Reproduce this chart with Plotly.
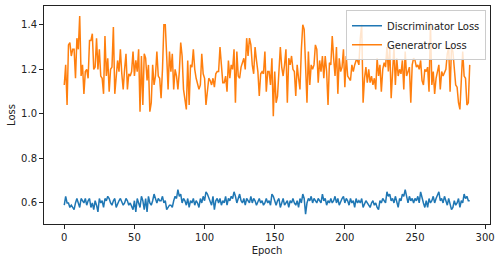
import plotly.graph_objects as go

epochs = list(range(290))

discriminator_loss = [
    0.59, 0.63, 0.60, 0.60, 0.58, 0.59, 0.58, 0.57, 0.60, 0.62,
    0.60, 0.58, 0.62, 0.61, 0.60, 0.62, 0.59, 0.61, 0.62, 0.58,
    0.60, 0.57, 0.61, 0.59, 0.56, 0.62, 0.60, 0.61, 0.58, 0.62,
    0.61, 0.63, 0.62, 0.60, 0.59, 0.61, 0.62, 0.58, 0.60, 0.61,
    0.62, 0.60, 0.59, 0.60, 0.62, 0.61, 0.59, 0.60, 0.58, 0.57,
    0.61, 0.56, 0.62, 0.60, 0.58, 0.63, 0.61, 0.57, 0.62, 0.56,
    0.63, 0.60, 0.59, 0.61, 0.64, 0.62, 0.60, 0.62, 0.61, 0.61,
    0.63, 0.60, 0.61, 0.57, 0.58, 0.59, 0.59, 0.58, 0.61, 0.63,
    0.62, 0.66, 0.63, 0.64, 0.60, 0.62, 0.61, 0.59, 0.62, 0.58,
    0.61, 0.60, 0.62, 0.59, 0.61, 0.60, 0.58, 0.62, 0.60, 0.63,
    0.61, 0.65, 0.64, 0.62, 0.61, 0.59, 0.63, 0.57, 0.61, 0.62,
    0.60, 0.62, 0.59, 0.61, 0.60, 0.63, 0.59, 0.62, 0.61, 0.63,
    0.62, 0.65, 0.63, 0.60, 0.62, 0.64, 0.61, 0.60, 0.62, 0.59,
    0.62, 0.61, 0.60, 0.63, 0.60, 0.62, 0.61, 0.59, 0.61, 0.62,
    0.60, 0.61, 0.59, 0.60, 0.62, 0.60, 0.61, 0.59, 0.64, 0.63,
    0.61, 0.59, 0.61, 0.62, 0.58, 0.60, 0.62, 0.59, 0.60, 0.61,
    0.58, 0.61, 0.60, 0.62, 0.60, 0.59, 0.61, 0.58, 0.62, 0.60,
    0.64, 0.62, 0.55, 0.60, 0.62, 0.61, 0.63, 0.60, 0.62, 0.61,
    0.60, 0.62, 0.61, 0.60, 0.64, 0.61, 0.62, 0.59, 0.61, 0.60,
    0.62, 0.60, 0.61, 0.63, 0.60, 0.62, 0.59, 0.61, 0.62, 0.63,
    0.60, 0.62, 0.61, 0.59, 0.62, 0.60, 0.61, 0.58, 0.62, 0.60,
    0.61, 0.60, 0.62, 0.58, 0.60, 0.61, 0.60, 0.59, 0.58, 0.60,
    0.61, 0.59, 0.60, 0.58, 0.57, 0.61, 0.60, 0.62, 0.61, 0.60,
    0.65, 0.63, 0.64, 0.61, 0.62, 0.60, 0.63, 0.61, 0.58, 0.62,
    0.61, 0.64, 0.63, 0.66, 0.62, 0.60, 0.63, 0.61, 0.62, 0.60,
    0.62, 0.61, 0.63, 0.60, 0.65, 0.62, 0.60, 0.58, 0.61, 0.58,
    0.62, 0.60, 0.61, 0.63, 0.60, 0.62, 0.64, 0.65, 0.61, 0.62,
    0.60, 0.63, 0.61, 0.59, 0.62, 0.60, 0.57, 0.58, 0.61, 0.59,
    0.60, 0.62, 0.58, 0.61, 0.60, 0.64, 0.62, 0.63, 0.61, 0.61,
]

generator_loss = [
    # epochs 0-71
    1.13, 1.22, 1.04, 1.31, 1.32, 1.26, 1.29, 1.29, 1.16, 1.34,
    1.29, 1.44, 1.17, 1.22, 1.09, 1.19, 1.20, 1.16, 1.33, 1.33,
    1.36, 1.20, 1.21, 1.34, 1.20, 1.29, 1.17, 1.16, 1.09, 1.35,
    1.17, 1.25, 1.10, 1.20, 1.21, 1.39, 1.09, 1.18, 1.24, 1.19,
    1.29, 1.18, 1.11, 1.20, 1.27, 1.11, 1.18, 1.17, 1.19, 1.28,
    1.17, 1.24, 1.19, 1.29, 1.01, 1.26, 1.04, 1.27, 1.25, 1.15,
    1.22, 1.01, 1.05, 1.22, 1.13, 1.17, 1.28, 1.17, 1.16, 1.07,
    1.20, 1.40,
    # epochs 72-146
    1.40, 1.26, 1.11, 1.28, 1.19, 1.27, 1.11, 1.20, 1.17, 1.11,
    1.19,
    1.32, 1.26, 1.11, 1.05, 1.02, 1.24, 1.04, 1.22, 1.21, 1.29,
    1.20,
    1.16, 1.14, 1.11, 1.13, 1.27, 1.18, 1.16, 1.04, 1.11, 1.16,
    1.15,
    1.13, 1.16, 1.12, 1.18, 1.19, 1.19, 1.30, 1.22, 1.14, 1.14,
    1.17,
    1.10, 1.24, 1.16, 1.22, 1.20, 1.29, 1.05, 1.28, 1.17, 1.16,
    1.21,
    1.23, 1.25, 1.20, 1.34, 1.26, 1.34, 1.31, 1.22, 1.18, 1.30,
    1.24,
    1.19, 1.08, 1.18, 1.19, 1.18, 1.28, 1.10, 1.19, 1.19,
    # epochs 147-221
    1.13, 1.25, 0.99, 1.19, 1.05, 1.08, 1.19, 1.30, 1.21,
    1.17, 1.22, 1.29, 1.05, 1.25, 1.22, 1.26, 1.20, 1.19, 1.08,
    1.22, 1.16, 1.11, 1.29, 1.40, 1.38, 1.19, 1.05, 1.28, 1.13,
    1.22, 1.20, 1.22, 1.31, 1.29, 1.14, 1.24, 1.19, 1.26, 1.16,
    1.26, 1.19, 1.04, 1.23, 1.22, 1.35, 1.25, 1.17, 1.30, 1.09,
    1.25, 1.19, 1.21, 1.29, 1.12, 1.26, 1.17, 1.16, 1.15, 1.22,
    1.19, 1.22, 1.24, 1.24, 1.22, 1.34, 1.40, 1.05, 1.16,
    1.21, 1.14, 1.20, 1.14, 1.17, 1.13, 1.16,
    # epochs 222-289
    1.11, 1.25, 1.17, 1.22, 1.10, 1.20, 1.23, 1.21, 1.30, 1.19,
    1.30, 1.07, 1.19, 1.30, 1.13, 1.25, 1.17, 1.20, 1.18, 1.24,
    1.11, 1.28, 1.17, 1.19, 1.21, 1.05, 1.22, 1.25, 1.24,
    1.21, 1.22, 1.20, 1.24, 1.15, 1.13, 1.20, 1.19, 1.21, 1.10,
    1.41, 1.13, 1.19, 1.09, 1.16, 1.19, 1.22, 1.11, 1.19, 1.17,
    1.19, 1.20, 1.27, 1.30, 1.10, 1.30, 1.28, 1.19, 1.13,
    1.12, 1.05, 1.02, 1.16, 1.28, 1.17, 1.16, 1.04, 1.05,
    1.22,
]

x_ticks = [0, 50, 100, 150, 200, 250, 300]
y_ticks = [0.6, 0.8, 1.0, 1.2, 1.4]
y_tick_labels = ["0.6", "0.8", "1.0", "1.2", "1.4"]

n = min(len(epochs), len(discriminator_loss), len(generator_loss))
ep = epochs[:n]

fig = go.Figure()
fig.add_trace(go.Scatter(x=ep, y=discriminator_loss[:n], mode="lines",
                         name="Discriminator Loss",
                         line=dict(color="#1f77b4", width=1.5)))
fig.add_trace(go.Scatter(x=ep, y=generator_loss[:n], mode="lines",
                         name="Generatror Loss",
                         line=dict(color="#ff7f0e", width=1.5)))

allv = discriminator_loss[:n] + generator_loss[:n]
ymin, ymax = min(allv), max(allv)
ypad = (ymax - ymin) * 0.05
xpad = (ep[-1] - ep[0]) * 0.05

axis_common = dict(
    showgrid=False, zeroline=False, showline=True, linecolor="#222",
    linewidth=1, mirror=True, ticks="outside", ticklen=4, tickwidth=1,
    tickcolor="#222", tickfont=dict(family="DejaVu Sans", size=10, color="#222"),
)

fig.update_layout(
    width=502, height=262,
    margin=dict(l=44, r=12, t=6, b=38),
    paper_bgcolor="white", plot_bgcolor="white",
    font=dict(family="DejaVu Sans", size=10, color="#222"),
    xaxis=dict(range=[ep[0] - xpad, ep[-1] + xpad], tickvals=x_ticks,
               title=dict(text="Epoch", font=dict(size=10), standoff=4),
               **axis_common),
    yaxis=dict(range=[ymin - ypad, ymax + ypad], tickvals=y_ticks,
               ticktext=y_tick_labels,
               title=dict(text="Loss", font=dict(size=10), standoff=3),
               **axis_common),
    legend=dict(x=0.991, y=0.98, xanchor="right", yanchor="top",
                bgcolor="rgba(255,255,255,0.8)", bordercolor="#cccccc",
                borderwidth=1, font=dict(family="DejaVu Sans", size=10, color="#222"),
                itemwidth=30, tracegroupgap=0),
    showlegend=True,
)

fig.write_html("out.html")
